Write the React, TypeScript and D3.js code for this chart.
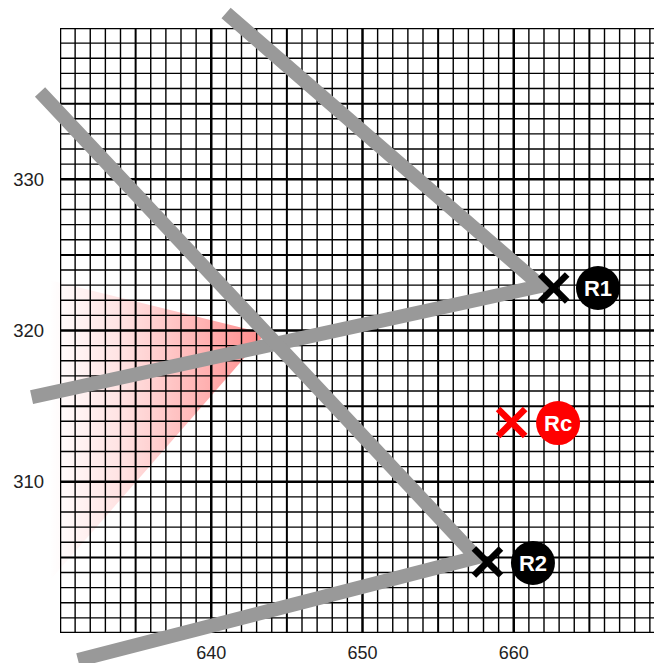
import React from "react";
import * as d3 from "d3";

const W = 654;
const H = 663;

// axis domains and tick labels
const xDomain = [630, 670];
const yDomain = [300, 340];
const xTickLabels = [640, 650, 660];
const yTickLabels = [310, 320, 330];

// bearing lines: [end, vertex, end] in data units
const lineR1 = [
  [640.98, 340.99],
  [661.8, 322.95],
  [628.12, 315.6],
];
const lineR2 = [
  [628.68, 335.77],
  [657.55, 305.0],
  [631.19, 298.21],
];

// markers
const markerNames = ["R1", "R2", "Rc"];
const markerX = [662.64, 658.26, 659.86];
const markerY = [322.81, 304.69, 313.92];
const labelX = [665.57, 661.27, 662.93];
const labelY = [322.81, 304.63, 313.88];
const markerColors = ["#000000", "#000000", "#ff0000"];

// uncertainty wedge (apex, upper end, lower end)
const wedge = [
  [643.6, 319.8],
  [629.0, 323.4],
  [629.0, 303.1],
];

export default function App() {
  const x = d3.scaleLinear().domain(xDomain).range([60, 665]);
  const y = d3.scaleLinear().domain(yDomain).range([633, 28]);

  const gridX = d3.range(xDomain[0], xDomain[1] + 1);
  const gridY = d3.range(yDomain[0], yDomain[1] + 1);
  const sw = (v: number) => (v % 10 === 0 ? 2.5 : v % 5 === 0 ? 2 : 1.4);

  const line = d3
    .line<number[]>()
    .x((d) => x(d[0]))
    .y((d) => y(d[1]));

  const wedgePath = line(wedge) + "Z";
  const arm = 13.5;

  return (
    <svg
      width={W}
      height={H}
      style={{ position: "absolute", left: 0, top: 0, background: "#fff" }}
      fontFamily="'Liberation Sans', Arial, sans-serif"
    >
      <defs>
        <linearGradient
          id="wg"
          gradientUnits="userSpaceOnUse"
          x1={x(629.3)}
          y1={0}
          x2={x(wedge[0][0])}
          y2={0}
        >
          <stop offset="0" stopColor="#ff0000" stopOpacity={0} />
          <stop offset="0.35" stopColor="#ff0000" stopOpacity={0.12} />
          <stop offset="0.75" stopColor="#ff0000" stopOpacity={0.32} />
          <stop offset="1" stopColor="#ff0000" stopOpacity={0.46} />
        </linearGradient>
        <clipPath id="plot">
          <rect x={60} y={28} width={605} height={605} />
        </clipPath>
      </defs>
      <rect x={0} y={0} width={W} height={H} fill="#fff" />
      <path d={wedgePath} fill="url(#wg)" />
      <g clipPath="url(#plot)">
        {gridX.map((v) => (
          <line
            key={"gx" + v}
            x1={x(v)}
            x2={x(v)}
            y1={y(yDomain[0])}
            y2={y(yDomain[1])}
            stroke="#000"
            strokeWidth={sw(v)}
          />
        ))}
        {gridY.map((v) => (
          <line
            key={"gy" + v}
            x1={x(xDomain[0])}
            x2={x(xDomain[1])}
            y1={y(v)}
            y2={y(v)}
            stroke="#000"
            strokeWidth={sw(v)}
          />
        ))}
      </g>
      {xTickLabels.map((v) => (
        <text
          key={"xt" + v}
          x={x(v)}
          y={659}
          textAnchor="middle"
          fontSize={18}
          fill="#222"
        >
          {v}
        </text>
      ))}
      {yTickLabels.map((v) => (
        <text
          key={"yt" + v}
          x={44}
          y={y(v)}
          dy="0.35em"
          textAnchor="end"
          fontSize={18.5}
          fill="#222"
        >
          {v}
        </text>
      ))}
      {[lineR1, lineR2].map((pts, i) => (
        <path
          key={"bl" + i}
          d={line(pts) || ""}
          fill="none"
          stroke="#999999"
          strokeWidth={14}
          strokeLinejoin="miter"
          strokeLinecap="butt"
        />
      ))}
      {markerNames.map((name, i) => {
        const cx = x(markerX[i]);
        const cy = y(markerY[i]);
        const lx = x(labelX[i]);
        const ly = y(labelY[i]);
        return (
          <g key={name}>
            <line
              x1={cx - arm}
              y1={cy - arm}
              x2={cx + arm}
              y2={cy + arm}
              stroke={markerColors[i]}
              strokeWidth={6.5}
            />
            <line
              x1={cx - arm}
              y1={cy + arm}
              x2={cx + arm}
              y2={cy - arm}
              stroke={markerColors[i]}
              strokeWidth={6.5}
            />
            <circle cx={lx} cy={ly} r={22} fill={markerColors[i]} />
            <text
              x={lx}
              y={ly}
              dy="0.36em"
              textAnchor="middle"
              fontSize={22}
              fontWeight="bold"
              fill="#fff"
            >
              {name}
            </text>
          </g>
        );
      })}
    </svg>
  );
}
